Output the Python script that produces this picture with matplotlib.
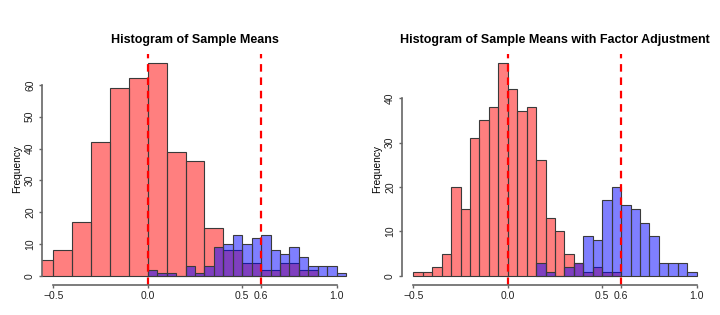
import matplotlib
matplotlib.use("Agg")
import matplotlib.pyplot as plt
import numpy as np

plt.rcParams['font.family'] = ['Liberation Sans', 'DejaVu Sans']

# left panel: sample means (red, bin 0.1 from -0.6) and subset (blue, bin 0.05 from 0.0)
left_red_start, left_red_width = -0.6, 0.1
left_red_counts = [5, 8, 17, 42, 59, 62, 67, 39, 36, 15, 8, 4, 2, 4, 2]
left_blue_start, left_blue_width = 0.0, 0.05
left_blue_counts = [2, 1, 1, 0, 3, 1, 3, 9, 10, 13, 10, 12, 13, 8, 7, 9, 6, 3, 3, 3, 1]

# right panel: with factor adjustment (both bin 0.05)
right_red_start, right_red_width = -0.5, 0.05
right_red_counts = [1, 1, 2, 5, 20, 15, 31, 35, 38, 48, 42, 37, 38, 26, 13, 10, 5, 3, 1, 2, 1, 1]
right_blue_start, right_blue_width = 0.15, 0.05
right_blue_counts = [3, 1, 0, 2, 3, 9, 8, 17, 20, 16, 15, 12, 9, 3, 3, 3, 1]

vlines = [0.0, 0.6]
xticks = [-0.5, 0.0, 0.5, 0.6, 1.0]
titles = ["Histogram of Sample Means", "Histogram of Sample Means with Factor Adjustment"]


def bins(start, width, counts):
    lefts = start + width * np.arange(len(counts))
    return lefts, width


def draw_panel(ax, red, blue, yticks, title):
    ymax = max(red[2])
    for (start, width, counts), col in [(red, (1, 0, 0, 0.5)), (blue, (0, 0, 1, 0.5))]:
        lefts, w = bins(start, width, counts)
        ax.bar(lefts, counts, width=w, align='edge', color=col,
               edgecolor='#3a3a3a', linewidth=0.8)
    for v in vlines:
        ax.axvline(v, color='red', lw=1.6, linestyle=(0, (3.4, 2.6)))
    ax.set_xlim(-0.56, 1.06)
    ax.set_ylim(-0.04 * ymax, 1.04 * ymax)
    for s in ['top', 'right']:
        ax.spines[s].set_visible(False)
    ax.spines['left'].set_bounds(yticks[0], yticks[-1])
    ax.spines['bottom'].set_bounds(-0.5, 1.0)
    for s in ['left', 'bottom']:
        ax.spines[s].set_color('#666666')
        ax.spines[s].set_linewidth(1.2)
    ax.set_xticks(xticks)
    ax.set_xticklabels(['\u22120.5', '0.0', '0.5', '0.6', '1.0'])
    ax.set_yticks(yticks)
    ax.set_yticklabels([str(t) for t in yticks], rotation=90, va='center')
    ax.tick_params(length=2.5, width=1, color='#666666', labelsize=7.5, pad=2.5, labelcolor='#222222')
    ax.set_ylabel('Frequency', fontsize=7.3, labelpad=2)
    ax.set_title(title, fontsize=9, fontweight='bold', pad=8)


fig = plt.figure(figsize=(7.2, 3.15), dpi=100)
ax1 = fig.add_axes([42 / 720, 1 - 284.5 / 315, 306 / 720, 230.5 / 315])
ax2 = fig.add_axes([402 / 720, 1 - 284.5 / 315, 306 / 720, 230.5 / 315])

draw_panel(ax1, (left_red_start, left_red_width, left_red_counts),
           (left_blue_start, left_blue_width, left_blue_counts),
           [0, 10, 20, 30, 40, 50, 60], titles[0])
draw_panel(ax2, (right_red_start, right_red_width, right_red_counts),
           (right_blue_start, right_blue_width, right_blue_counts),
           [0, 10, 20, 30, 40], titles[1])

fig.savefig('out.png', dpi=100)
